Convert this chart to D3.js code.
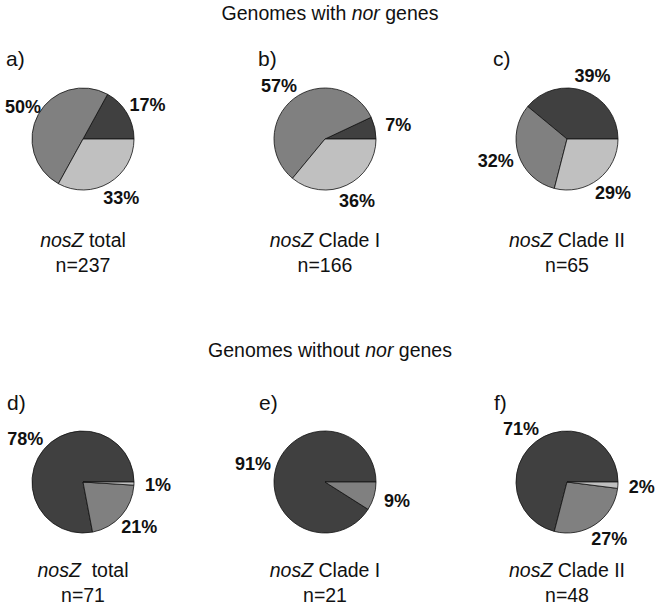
<!DOCTYPE html>
<html>
<head>
<meta charset="utf-8">
<script src="https://cdn.jsdelivr.net/npm/d3@7"></script>
<style>
  html, body { margin: 0; padding: 0; background: #fff; }
  text { font-family: "Liberation Sans", Arial, Helvetica, sans-serif; fill: #111; }
</style>
</head>
<body>
<svg id="chart" width="660" height="607"></svg>
<script>
// ---- data ----
const sectionTitles = [["Genomes with ", "nor", " genes"], ["Genomes without ", "nor", " genes"]];
const panelLetters = ["a)", "b)", "c)", "d)", "e)", "f)"];
const darkValues  = [17, 7, 39, 78, 91, 71];
const midValues   = [50, 57, 32, 21, 9, 27];
const lightValues = [33, 36, 29, 1, 0, 2];
const captionRest = [" total", " Clade I", " Clade II", "  total", " Clade I", " Clade II"];
const nValues     = [237, 166, 65, 71, 21, 48];
const sliceNames  = ["dark", "mid", "light"];

// ---- layout ----
const W = 660, H = 607;
const svg = d3.select("#chart");
const colScale = d3.scalePoint().domain([0, 1, 2]).range([83, 567]);
const rowScale = d3.scalePoint().domain([0, 1]).range([139, 482]);
const color = d3.scaleOrdinal().domain(sliceNames).range(["#404040", "#808080", "#c0c0c0"]);
const letterX = [6, 258, 493];
const R = 51;
const labelRx = 75, labelRy = 68;

const pie = d3.pie().sort(null).value(d => d.v)
  .startAngle(Math.PI / 2).endAngle(Math.PI / 2 - 2 * Math.PI);
const arc = d3.arc().innerRadius(0).outerRadius(R);
const labelPos = d => {
  const a = (d.startAngle + d.endAngle) / 2;
  return [labelRx * Math.sin(a), -labelRy * Math.cos(a)];
};

// section titles
sectionTitles.forEach((parts, i) => {
  const t = svg.append("text")
    .attr("x", W / 2).attr("y", i === 0 ? 20 : 357)
    .attr("text-anchor", "middle").style("font-size", "19.5px");
  t.append("tspan").text(parts[0]);
  t.append("tspan").style("font-style", "italic").text(parts[1]);
  t.append("tspan").text(parts[2]);
});

panelLetters.forEach((letter, i) => {
  const col = i % 3, row = Math.floor(i / 3);
  const cx = colScale(col), cy = rowScale(row);
  const data = [darkValues[i], midValues[i], lightValues[i]].map((v, k) => ({ v, name: sliceNames[k] }));
  const g = svg.append("g").attr("transform", `translate(${cx},${cy})`);

  // letter
  svg.append("text")
    .attr("x", letterX[col] + (row === 1 ? 1 : 0))
    .attr("y", cy - (row === 0 ? 73 : 72))
    .style("font-size", "21px").text(letter);

  const arcs = pie(data).filter(d => d.data.v > 0);
  g.selectAll("path").data(arcs).join("path")
    .attr("d", arc)
    .attr("fill", d => color(d.data.name))
    .attr("stroke", "#111").attr("stroke-width", 0.8)
    .attr("stroke-linejoin", "round");

  g.selectAll("text.pct").data(arcs).join("text")
    .attr("class", "pct")
    .attr("y", d => labelPos(d)[1] + 6.5)
    .attr("text-anchor", "middle")
    .style("font-size", "18px").style("font-weight", "bold")
    .text(d => d.data.v + "%")
    .attr("x", function (d) {
      const half = this.getComputedTextLength() / 2;
      const x = labelPos(d)[0];
      return Math.min(Math.max(x, -cx + half + 5), W - cx - half - 5);
    });

  // caption
  const cap = svg.append("text")
    .attr("x", cx).attr("y", cy + (row === 0 ? 108 : 95))
    .attr("text-anchor", "middle").style("font-size", "19.5px")
    .attr("xml:space", "preserve");
  cap.append("tspan").style("font-style", "italic").text("nosZ");
  cap.append("tspan").text(captionRest[i]);

  svg.append("text")
    .attr("x", cx).attr("y", cy + (row === 0 ? 133 : 120))
    .attr("text-anchor", "middle").style("font-size", "19.5px")
    .text("n=" + nValues[i]);
});
</script>
</body>
</html>
